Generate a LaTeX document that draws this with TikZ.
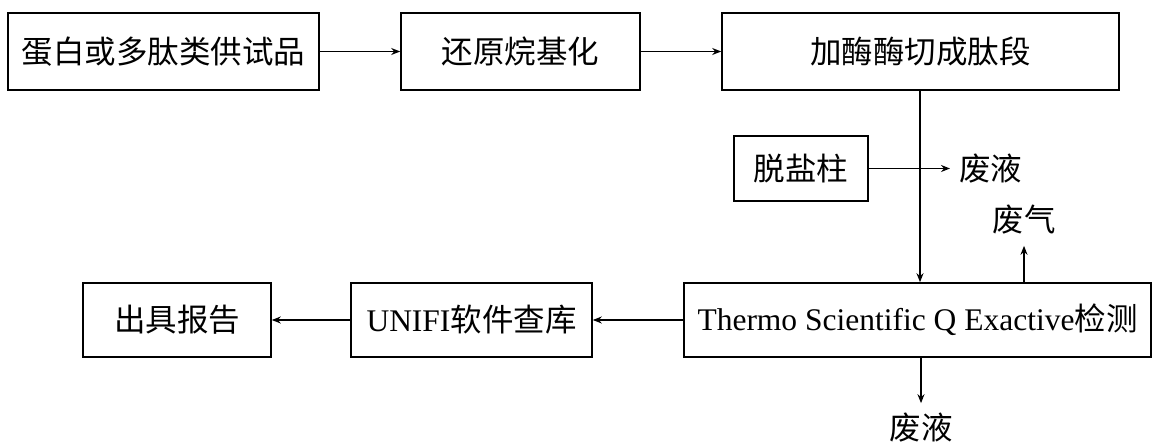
\documentclass[tikz,border=0pt]{standalone}
\usepackage{fontspec}
\setmainfont{Liberation Serif}
\newfontfamily\cjk{Noto Sans CJK SC}
\usetikzlibrary{arrows.meta,calc}
\begin{document}
\begin{tikzpicture}[x=1pt,y=1pt,
  every node/.style={font=\fontsize{31.5pt}{36pt}\selectfont},
  stepbox/.style={draw,line width=1.6pt,inner sep=0pt,align=center},
  lbl/.style={inner sep=0pt},
  arr/.style={line width=1.6pt,-{Stealth[length=9pt,width=7pt]}}]
\useasboundingbox (0,0) rectangle (1153,-446);
\node[stepbox,minimum width=311pt,minimum height=77pt] (b1) at (163.5,-51.5) {\cjk 蛋白或多肽类供试品};
\node[stepbox,minimum width=239pt,minimum height=77pt] (b2) at (520.5,-51.5) {\cjk 还原烷基化};
\node[stepbox,minimum width=397pt,minimum height=77pt] (b3) at (920.5,-51.5) {\cjk 加酶酶切成肽段};
\node[stepbox,minimum width=134pt,minimum height=65pt] (ds) at (801,-168.5) {\cjk 脱盐柱};
\node[stepbox,minimum width=467pt,minimum height=74pt] (th) at (917.5,-320) {Thermo Scientific Q Exactive{\cjk 检测}};
\node[stepbox,minimum width=241pt,minimum height=74pt] (un) at (471.5,-320) {UNIFI{\cjk 软件查库}};
\node[stepbox,minimum width=188pt,minimum height=74pt] (rp) at (177,-320) {\cjk 出具报告};
\node[lbl,anchor=west,inner xsep=9pt] (w1) at (950,-168.5) {\cjk 废液};
\node[lbl,inner ysep=11pt] (w2) at (1024,-220) {\cjk 废气};
\node[lbl,inner ysep=10pt] (w3) at (921,-428) {\cjk 废液};
\coordinate (c1) at (920,-90.5);
\draw[arr] (b1.east) -- (b2.west);
\draw[arr] (b2.east) -- (b3.west);
\draw[arr] (b3.south -| c1) -- (th.north -| c1);
\draw[arr] (ds.east) -- (w1.west);
\draw[arr] (th.north -| w2.south) -- (w2.south);
\draw[arr] (th.south -| w3.north) -- (w3.north);
\draw[arr] (th.west) -- (un.east);
\draw[arr] (un.west) -- (rp.east);
\end{tikzpicture}
\end{document}
